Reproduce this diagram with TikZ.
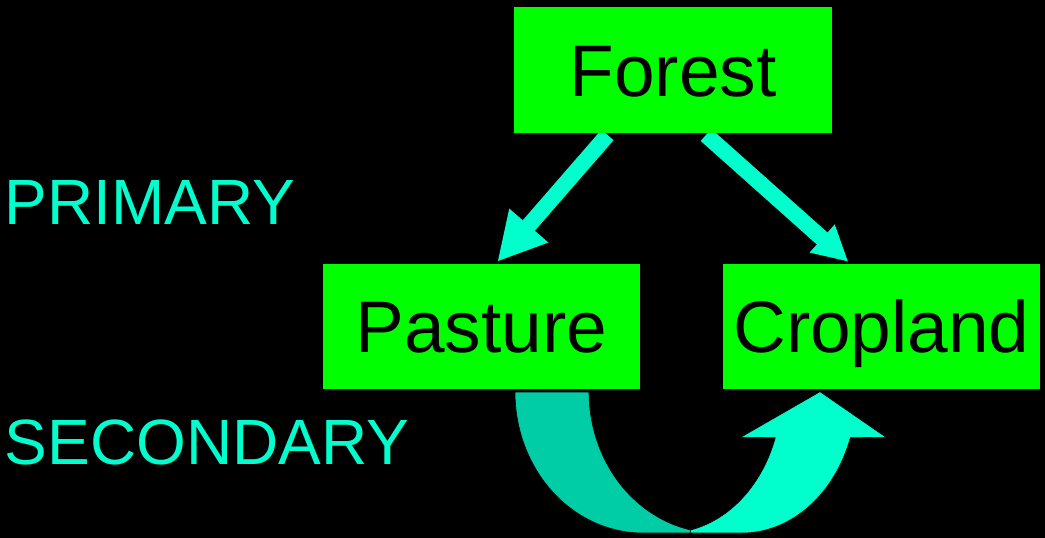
\documentclass[tikz,border=0pt]{standalone}
\usepackage{fontspec}
\setmainfont{Liberation Sans}
\usetikzlibrary{arrows.meta,calc,backgrounds}

\definecolor{boxgreen}{RGB}{0,255,0}
\definecolor{aqua}{RGB}{0,255,204}
\definecolor{deepaqua}{RGB}{0,204,166}

\tikzset{
  landbox/.style={fill=boxgreen, draw=none, inner sep=0pt,
    minimum width=317.5pt, minimum height=125.5pt,
    text height=52.3pt, text depth=0pt,
    font=\fontsize{73}{80}\selectfont, text=black},
  level/.style={anchor=base west, inner sep=0pt, text=aqua,
    font=\fontsize{64}{70}\selectfont},
  flow/.style={draw=aqua, line width=16pt},
  bigtip/.style={-{Triangle[length=48pt,width=48pt]}},
  smalltip/.style={-{Triangle[length=35pt,width=35pt]}},
  band/.style={draw=black, line width=0.6pt}
}

\begin{document}
\begin{tikzpicture}[x=1pt, y=-1pt]
  \useasboundingbox (0,0) rectangle (1045,538);

  % land-use boxes
  \node[landbox] (forest)   at (673,70)     {Forest};
  \node[landbox] (pasture)  at (481.3,326.3) {Pasture};
  \node[landbox] (cropland) at (881.5,326.3) {Cropland};

  % row labels
  \node[level] (primary)   at (4.5,224.3) {PRIMARY};
  \node[level] (secondary) at (4.5,464)   {SECONDARY};

  \begin{scope}[on background layer]
    \fill[black] (0,0) rectangle (1045,538);

    % primary conversions
    \draw[flow, bigtip]
      ($(forest.south)+(-65.5,2)$) -- ($(pasture.north)+(16,-1.6)$);
    \draw[flow, smalltip]
      ($(forest.south)+(33,2)$) -- ($(cropland.north)+(-33.2,-1.6)$);

    % secondary conversion: curved arrow from pasture round to cropland
    \filldraw[deepaqua, band]
      (515,392)
      -- plot[domain=180:90, samples=50] ({643+128*cos(\x)},{392+141*sin(\x)})
      -- (701,533)
      -- plot[domain=97:180, samples=50] ({717+128*cos(\x)},{392+141*sin(\x)})
      -- cycle;
    \filldraw[aqua, band]
      plot[domain=78:18.9, samples=50] ({667+114.5*cos(\x)},{392+141*sin(\x)})
      -- (740.7,437.3) -- (820,391.7) -- (886,437.3)
      -- plot[domain=18.9:90, samples=50] ({742+114.5*cos(\x)},{392+141*sin(\x)})
      -- (690,533) -- cycle;
  \end{scope}
\end{tikzpicture}
\end{document}
